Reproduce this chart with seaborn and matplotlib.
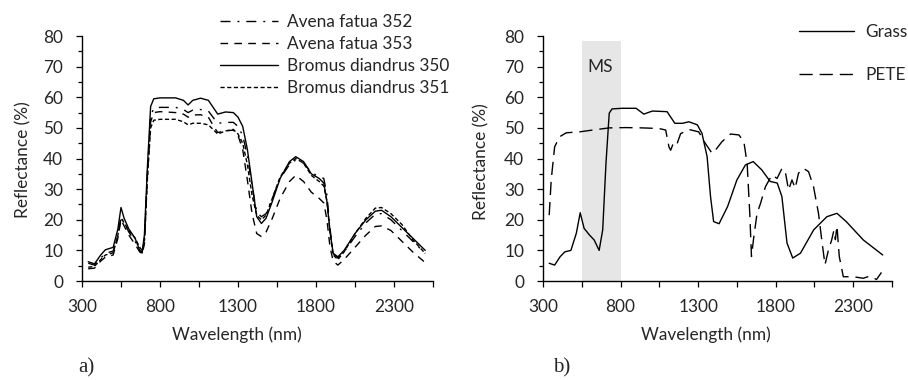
import pandas as pd
import seaborn as sns
import matplotlib.pyplot as plt
from matplotlib.ticker import FixedLocator, MultipleLocator

# %%
# panel a) weed spectra
wl_a = [340, 380, 420, 450, 500, 530, 550, 570, 600, 640,
        670, 685, 700, 720, 740, 760, 800, 900, 950, 980,
        1010, 1060, 1110, 1150, 1170, 1220, 1270, 1300, 1330, 1360,
        1390, 1420, 1450, 1480, 1520, 1570, 1630, 1670, 1720, 1770,
        1820, 1850, 1870, 1890, 1910, 1940, 1980, 2050, 2120, 2180,
        2220, 2280, 2350, 2420, 2500]
avena_352 = [5.8, 5.2, 7.5, 9.0, 9.8, 15.0, 21.0, 19.0, 16.0, 13.0,
             10.0, 9.2, 13.5, 36.0, 54.0, 56.3, 56.7, 56.7, 56.0, 55.0,
             55.8, 56.0, 55.5, 52.8, 51.5, 51.8, 51.8, 50.5, 47.5, 41.0,
             31.0, 22.5, 21.0, 22.0, 27.0, 33.5, 38.0, 39.5, 38.5, 35.5,
             34.0, 33.5, 28.0, 17.0, 9.0, 7.5, 9.5, 14.5, 19.0, 21.8,
             22.0, 20.0, 16.5, 13.0, 9.0]
avena_353 = [4.0, 4.2, 6.5, 7.8, 8.5, 14.0, 20.0, 18.0, 15.0, 12.0,
             9.5, 8.8, 12.0, 35.0, 52.0, 55.0, 55.3, 55.0, 54.5, 53.5,
             54.2, 54.3, 53.5, 50.0, 48.5, 49.0, 49.3, 47.5, 43.0, 33.0,
             22.0, 15.5, 14.5, 16.0, 20.5, 27.0, 32.5, 34.5, 32.5, 29.0,
             27.0, 25.5, 20.0, 11.0, 6.5, 5.2, 7.0, 11.0, 15.0, 17.8,
             18.0, 16.5, 13.0, 9.5, 6.0]
bromus_350 = [6.3, 5.6, 8.5, 10.2, 11.0, 17.0, 24.0, 20.5, 17.0, 14.0,
              10.0, 9.2, 15.0, 38.0, 57.0, 59.5, 59.8, 59.8, 59.0, 57.5,
              59.0, 59.7, 59.0, 56.0, 54.5, 55.2, 55.0, 53.5, 50.5, 43.0,
              32.0, 21.0, 18.8, 20.5, 26.0, 33.5, 39.0, 40.6, 39.0, 35.0,
              33.5, 32.0, 26.0, 16.0, 9.0, 7.9, 10.0, 15.5, 20.0, 22.8,
              23.1, 21.0, 17.5, 14.0, 10.0]
bromus_351 = [4.5, 4.8, 7.0, 8.5, 9.2, 15.0, 20.5, 19.0, 16.5, 14.0,
              11.0, 10.0, 13.0, 34.0, 50.0, 52.5, 52.8, 52.8, 52.0, 51.0,
              51.5, 51.5, 51.0, 49.0, 48.0, 49.0, 49.5, 48.0, 45.0, 38.0,
              28.0, 21.5, 20.0, 21.5, 27.0, 34.0, 38.5, 40.0, 38.5, 34.5,
              32.5, 31.0, 26.0, 16.0, 8.5, 7.0, 9.5, 15.5, 20.5, 23.8,
              24.0, 22.0, 18.5, 13.5, 9.0]

# %%
# panel b) grass vs PETE
wl_grass = [340, 375, 410, 440, 480, 515, 540, 565, 600, 630,
            662, 685, 706, 727, 745, 810, 900, 950, 1005, 1100,
            1150, 1200, 1240, 1295, 1325, 1358, 1380, 1400, 1435, 1490,
            1550, 1605, 1655, 1710, 1765, 1810, 1840, 1873, 1910, 1960,
            2045, 2130, 2195, 2255, 2365, 2490]
grass = [5.8, 5.2, 7.9, 9.5, 10.0, 15.6, 22.3, 17.2, 15.0, 13.4,
         10.0, 16.7, 38.4, 54.8, 56.2, 56.4, 56.4, 54.5, 55.5, 55.3,
         51.5, 51.5, 52.0, 51.0, 48.2, 40.6, 27.6, 19.4, 18.7, 24.3,
         33.0, 37.9, 39.0, 36.3, 32.5, 32.0, 27.6, 12.4, 7.5, 9.1,
         16.7, 21.0, 22.1, 19.4, 13.4, 8.5]

wl_pete = [340, 353, 375, 407, 450, 535, 620, 727, 834, 941,
           1048, 1091, 1112, 1123, 1144, 1165, 1187, 1240, 1304, 1347,
           1390, 1411, 1454, 1509, 1563, 1595, 1616, 1633, 1644, 1659,
           1680, 1702, 1734, 1776, 1809, 1841, 1862, 1883, 1905, 1926,
           1947, 1979, 2012, 2044, 2076, 2097, 2118, 2140, 2161, 2175,
           2185, 2195, 2210, 2236, 2300, 2364, 2407, 2450, 2482]
pete = [21.5, 33.0, 43.8, 47.1, 48.4, 48.7, 49.3, 50.0, 50.1, 50.0,
        49.8, 49.3, 43.8, 42.7, 45.5, 44.9, 48.1, 49.5, 48.7, 44.9,
        41.7, 42.7, 45.5, 48.0, 47.7, 45.5, 38.4, 22.1, 8.0, 14.4,
        22.1, 25.3, 30.8, 34.6, 33.5, 36.8, 35.7, 29.7, 33.0, 30.3,
        35.2, 36.8, 35.7, 30.8, 22.1, 13.4, 5.3, 10.1, 13.4, 16.5,
        13.5, 18.0, 8.0, 1.4, 1.4, 0.9, 1.6, 0.5, 2.8]

x_major = [300, 800, 1300, 1800, 2300]
x_minor = [550, 1050, 1550, 2050, 2550]

# %%
weeds = pd.concat([
    pd.DataFrame({"wl": wl_a, "refl": avena_352, "sample": "Avena fatua 352"}),
    pd.DataFrame({"wl": wl_a, "refl": avena_353, "sample": "Avena fatua 353"}),
    pd.DataFrame({"wl": wl_a, "refl": bromus_350, "sample": "Bromus diandrus 350"}),
    pd.DataFrame({"wl": wl_a, "refl": bromus_351, "sample": "Bromus diandrus 351"}),
])
materials = pd.concat([
    pd.DataFrame({"wl": wl_grass, "refl": grass, "sample": "Grass"}),
    pd.DataFrame({"wl": wl_pete, "refl": pete, "sample": "PETE"}),
])

weed_dashes = {
    "Avena fatua 352": (7.2, 5.0, 1.4, 5.0),
    "Avena fatua 353": (5.5, 4.5),
    "Bromus diandrus 350": "",
    "Bromus diandrus 351": (3.0, 1.8),
}
mat_dashes = {"Grass": "", "PETE": (9.5, 5.0)}

# %%
sns.set_style("ticks")
plt.rcParams["font.family"] = ["Lato", "DejaVu Sans"]
plt.rcParams["font.size"] = 12.4

fig = plt.figure(figsize=(9.08, 3.8), dpi=100)
ax1 = fig.add_axes([0.0903, 0.2605, 0.3866, 0.6447])
ax2 = fig.add_axes([0.598, 0.2605, 0.3844, 0.6447])

sns.lineplot(data=weeds, x="wl", y="refl", hue="sample", style="sample",
             palette={k: "black" for k in weed_dashes}, dashes=weed_dashes,
             estimator=None, linewidth=1.0, ax=ax1)

ax2.axvspan(550, 800, ymin=0, ymax=78.5 / 80, color="#e6e6e6", lw=0, zorder=0)
ax2.text(670, 70, "MS", ha="center", va="center", fontsize=12.4)
sns.lineplot(data=materials, x="wl", y="refl", hue="sample", style="sample",
             palette={k: "black" for k in mat_dashes}, dashes=mat_dashes,
             estimator=None, linewidth=1.0, ax=ax2)

for ax, xl in [(ax1, 0.44), (ax2, 0.467)]:
    ax.set_xlim(300, 2550)
    ax.set_ylim(0, 80)
    ax.xaxis.set_major_locator(FixedLocator(x_major))
    ax.xaxis.set_minor_locator(FixedLocator(x_minor))
    ax.yaxis.set_major_locator(MultipleLocator(10))
    ax.yaxis.set_minor_locator(MultipleLocator(5))
    ax.tick_params(which="both", direction="out", length=4, width=0.9,
                   color="black", labelsize=12.4)
    ax.tick_params(axis="y", which="minor", length=3)
    ax.tick_params(axis="y", pad=9.5)
    ax.tick_params(axis="x", pad=9)
    ax.set_xlabel("Wavelength (nm)", fontsize=12.4)
    ax.xaxis.set_label_coords(xl, -0.1865)
    ax.set_ylabel("")
    sns.despine(ax=ax)
    for s in ["left", "bottom"]:
        ax.spines[s].set_linewidth(1.0)
        ax.spines[s].set_color("black")

fig.text(23.5 / 908, 1 - 160 / 380, "Reflectance (%)", rotation=90,
         ha="center", va="center", fontsize=12.4)
fig.text(481.5 / 908, 1 - 162 / 380, "Reflectance (%)", rotation=90,
         ha="center", va="center", fontsize=12.4)

h, l = ax1.get_legend_handles_labels()
ax1.legend(h, l, loc="upper left", bbox_to_anchor=(220 / 908, 0.963),
           bbox_transform=fig.transFigure, frameon=False, borderpad=0,
           borderaxespad=0, handlelength=3.37, handletextpad=0.52,
           labelspacing=0.34, fontsize=12.4)
h, l = ax2.get_legend_handles_labels()
ax2.legend(h, l, loc="upper left", bbox_to_anchor=(799 / 908, 0.937),
           bbox_transform=fig.transFigure, frameon=False, borderpad=0,
           borderaxespad=0, handlelength=3.2, handletextpad=0.64,
           labelspacing=1.6, fontsize=12.4)

fig.text(78 / 908, 1 - 368 / 380, "a)", family=["Liberation Serif"],
         fontsize=15, va="center")
fig.text(553 / 908, 1 - 368 / 380, "b)", family=["Liberation Serif"],
         fontsize=15, va="center")

# %%
fig.savefig("out.png", dpi=100)
